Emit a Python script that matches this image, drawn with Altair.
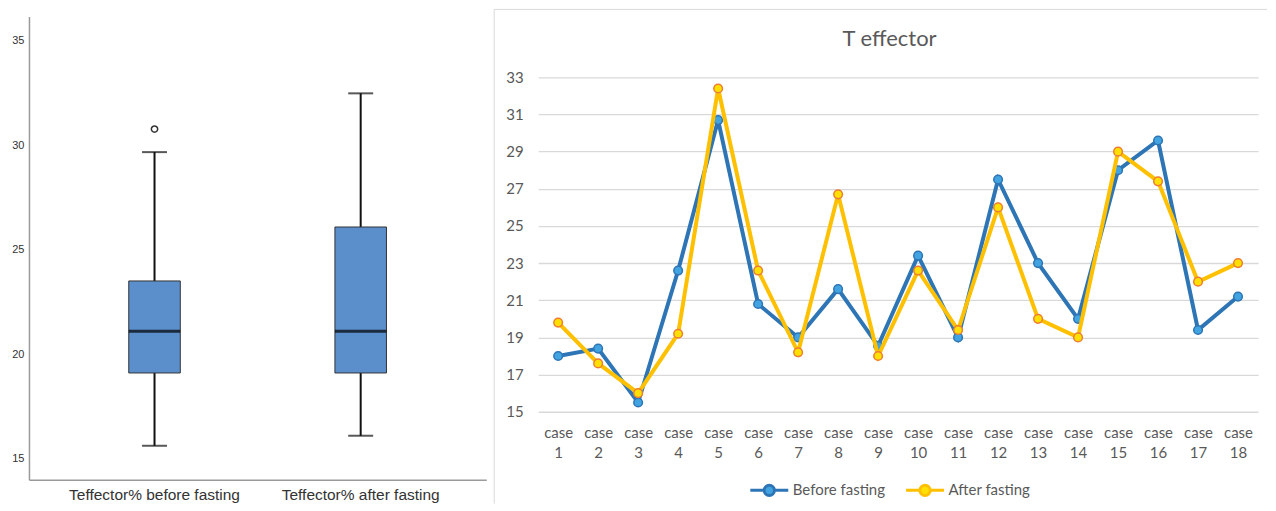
import altair as alt
import pandas as pd

# ---------------- data ----------------
cases = [f"case {i}" for i in range(1, 19)]
before = [18.0, 18.4, 15.5, 22.6, 30.7, 20.8, 19.0, 21.6, 18.55, 23.4, 19.0, 27.5,
          23.0, 20.0, 28.0, 29.6, 19.4, 21.2]
after = [19.8, 17.6, 16.0, 19.2, 32.4, 22.6, 18.2, 26.7, 18.0, 22.6, 19.4, 26.0,
         20.0, 19.0, 29.0, 27.4, 22.0, 23.0]
series_names = ["Before fasting", "After fasting"]
line_y_ticks = [15, 17, 19, 21, 23, 25, 27, 29, 31, 33]

box_groups = ["Teffector% before fasting", "Teffector% after fasting"]
box_q1 = [19.1, 19.1]
box_median = [21.1, 21.1]
box_q3 = [23.5, 26.08]
box_low = [15.62, 16.1]
box_high = [29.66, 32.47]
outlier_groups = ["Teffector% before fasting"]
outlier_values = [30.76]
box_y_ticks = [15, 20, 25, 30, 35]

# ---------------- styles ----------------
line_colors = ["#2E75B6", "#FFC000"]
marker_fills = ["#41A3E0", "#FFE000"]
marker_strokes = ["#2E75B6", "#EE7D31"]
excel_text = "#595959"

df_lines = pd.DataFrame({
    "case": cases * 2,
    "value": before + after,
    "series": [series_names[0]] * len(cases) + [series_names[1]] * len(cases),
})
df_box = pd.DataFrame({
    "group": box_groups, "q1": box_q1, "median": box_median, "q3": box_q3,
    "low": box_low, "high": box_high,
})
df_out = pd.DataFrame({"group": outlier_groups, "value": outlier_values})
df_one = pd.DataFrame({"k": [0]})

# ---------------- left: box plot ----------------
bx_scale = alt.Scale(domain=box_groups, paddingInner=0.75, paddingOuter=0.484)
bx_axis = alt.Axis(title=None, labelAngle=0, ticks=False, domainColor="#9A9A9A",
                   domainWidth=1.5, labelFont="Liberation Sans", labelFontSize=15.5,
                   labelColor="#333333", labelPadding=8, labelLimit=400)
by_scale = alt.Scale(domain=[14.0, 36.15], nice=False, zero=False)
by_axis = alt.Axis(title=None, values=box_y_ticks, grid=False, ticks=False,
                   domainColor="#9A9A9A", domainWidth=1.5, labelFont="Liberation Sans",
                   labelFontSize=11, labelColor="#333333", labelPadding=5)


def bx():
    return alt.X("group:N", sort=box_groups, scale=bx_scale, axis=bx_axis)


def by(field):
    return alt.Y(field, type="quantitative", scale=by_scale, axis=by_axis)


base_box = alt.Chart(df_box)
whisker = base_box.mark_rule(color="#111111", strokeWidth=2).encode(x=bx(), y=by("low"), y2="high:Q")
box = base_box.mark_bar(fill="#5B8FCC", stroke="#333333", strokeWidth=1).encode(
    x=bx(), y=by("q1"), y2="q3:Q")
median = base_box.mark_tick(color="#000000", thickness=3, size=51.5).encode(x=bx(), y=by("median"))
cap_low = base_box.mark_tick(color="#111111", thickness=2, size=25).encode(x=bx(), y=by("low"))
cap_high = base_box.mark_tick(color="#111111", thickness=2, size=25).encode(x=bx(), y=by("high"))
outlier = alt.Chart(df_out).mark_point(shape="circle", filled=False, color="#333333",
                                       size=40, strokeWidth=1.5, opacity=1).encode(
    x=bx(), y=by("value"))

left = alt.layer(whisker, box, median, cap_low, cap_high, outlier).properties(
    width=458, height=464)

# ---------------- right: line chart ----------------
legend_symbol = ("M-1,0H-0.27M0.27,0H1"
                 "M-0.27,0A0.27,0.27,0,1,1,0.27,0A0.27,0.27,0,1,1,-0.27,0Z")
legend = alt.Legend(title=None, orient="none", legendX=721, legendY=454,
                    direction="horizontal", symbolType=legend_symbol, symbolSize=1444,
                    symbolStrokeWidth=3, labelFont="Lato", labelFontSize=15,
                    labelColor=excel_text, labelOffset=3, columnPadding=14, padding=0)

lx = alt.X("case:N", sort=cases, scale=alt.Scale(type="point", padding=0.5),
           axis=alt.Axis(title=None, labelExpr="split(datum.label, ' ')", labelAngle=0,
                         ticks=False, domain=False, grid=False, labelFont="Lato",
                         labelFontSize=15, labelColor=excel_text, labelPadding=14,
                         labelLineHeight=20))
# the y domain runs above 33 so that the plot area shares its top with the box plot
ly = alt.Y("value:Q", scale=alt.Scale(domain=[15, 36.28], nice=False, zero=False),
           axis=alt.Axis(title=None, values=line_y_ticks, grid=True, gridColor="#D9D9D9",
                         gridWidth=1.3, domain=False, ticks=False, labelFont="Lato",
                         labelFontSize=15, labelColor=excel_text, labelPadding=15))
color_enc = alt.Color("series:N", scale=alt.Scale(domain=series_names, range=line_colors),
                      legend=legend)
fill_enc = alt.Fill("series:N", scale=alt.Scale(domain=series_names, range=marker_fills),
                    legend=legend)
stroke_enc = alt.Stroke("series:N", scale=alt.Scale(domain=series_names, range=marker_strokes),
                        legend=None)

frame_top = alt.Chart(df_one).mark_rule(color="#D9D9D9", strokeWidth=1).encode(
    x=alt.value(-44), x2=alt.value(730), y=alt.value(-7))
frame_left = alt.Chart(df_one).mark_rule(color="#D9D9D9", strokeWidth=1).encode(
    x=alt.value(-44), y=alt.value(-7), y2=alt.value(488))

series_layers = []
for s in series_names:
    b = alt.Chart(df_lines).transform_filter(alt.datum.series == s)
    series_layers.append(b.mark_line(strokeWidth=4).encode(x=lx, y=ly, color=color_enc))
    series_layers.append(b.mark_point(filled=True, shape="circle", size=75, strokeWidth=1.5,
                                      opacity=1).encode(x=lx, y=ly, fill=fill_enc,
                                                        stroke=stroke_enc))

right = alt.layer(frame_top, frame_left, *series_layers).properties(
    width=721, height=396,
    title=alt.TitleParams("T effector", font="Lato", fontSize=22, fontWeight="normal",
                          color=excel_text, anchor="middle", frame="group", dx=-8.5,
                          offset=-42),
)

chart = alt.hconcat(left, right, spacing=7).configure_view(stroke=None).properties(
    padding={"left": 3, "top": 0, "right": 0, "bottom": 0})

chart.save("out.html", embed_options={"renderer": "svg", "actions": False})
